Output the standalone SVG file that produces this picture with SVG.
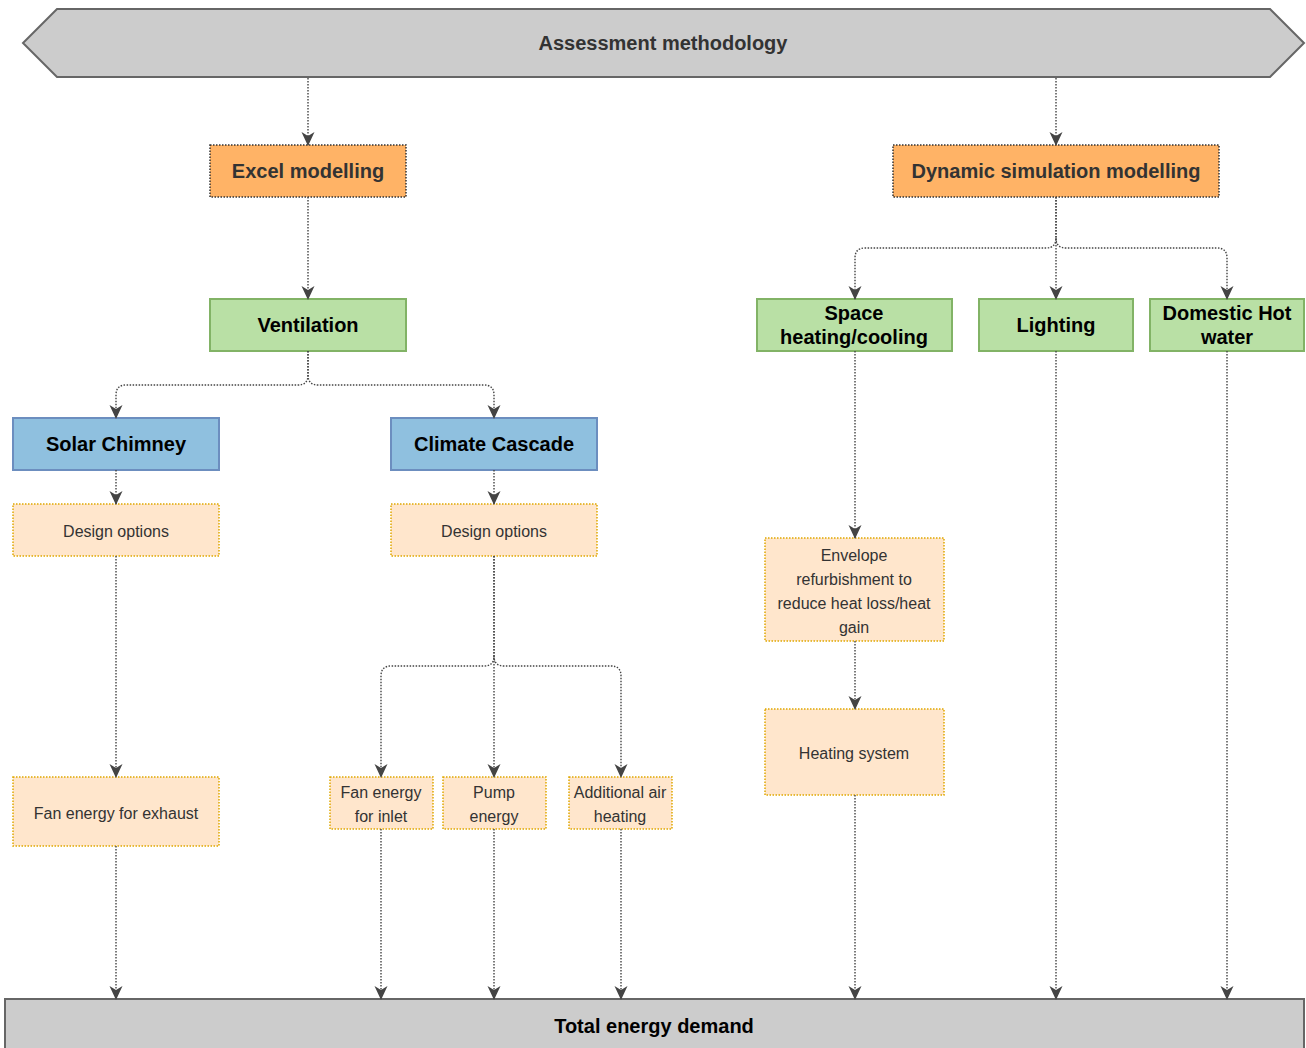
<svg xmlns="http://www.w3.org/2000/svg" width="1306" height="1048" viewBox="0 0 1306 1048">
<style>
.t{font-family:"Liberation Sans",Arial,sans-serif;text-anchor:middle;dominant-baseline:central}
.b{font-weight:bold;font-size:20px;fill:#000}
.bg{font-weight:bold;font-size:20px;fill:#333}
.s{font-size:16px;fill:#333}
.gray{fill:#CCCCCC;stroke:#666;stroke-width:2}
.orange{fill:#FFB366;stroke:#333;stroke-width:1.5;stroke-dasharray:1.5 1.5}
.green{fill:#B9E0A5;stroke:#82B366;stroke-width:2}
.blue{fill:#8FC0DF;stroke:#6C8EBF;stroke-width:2}
.peach{fill:#FFE6CC;stroke:#E0A800;stroke-width:1.5;stroke-dasharray:1.5 1.5}
.c{fill:none;stroke:#444;stroke-width:1.4;stroke-dasharray:1.5 1.5}
</style>
<defs>
<marker id="a" viewBox="0 0 14 14" refX="13" refY="7" markerWidth="14" markerHeight="14" markerUnits="userSpaceOnUse" orient="auto">
<path d="M0,0.5 L14,7 L0,13.5 L4,7 z" fill="#444"/>
</marker>
</defs>
<g id="assessment">
<polygon class="gray" points="57,9 1270,9 1304,43 1270,77 57,77 23,43"/>
<text class="t bg" x="663" y="43">Assessment methodology</text>
</g>
<g id="excel">
<rect class="orange" x="210" y="145" width="196" height="52"/>
<text class="t bg" x="308" y="171">Excel modelling</text>
</g>
<g id="dynamic">
<rect class="orange" x="893" y="145" width="326" height="52"/>
<text class="t bg" x="1056" y="171">Dynamic simulation modelling</text>
</g>
<g id="ventilation">
<rect class="green" x="210" y="299" width="196" height="52"/>
<text class="t b" x="308" y="325">Ventilation</text>
</g>
<g id="space">
<rect class="green" x="757" y="299" width="195" height="52"/>
<text class="t b" x="854" y="313">Space</text>
<text class="t b" x="854" y="337">heating/cooling</text>
</g>
<g id="lighting">
<rect class="green" x="979" y="299" width="154" height="52"/>
<text class="t b" x="1056" y="325">Lighting</text>
</g>
<g id="dhw">
<rect class="green" x="1150" y="299" width="154" height="52"/>
<text class="t b" x="1227" y="313">Domestic Hot</text>
<text class="t b" x="1227" y="337">water</text>
</g>
<g id="solar">
<rect class="blue" x="13" y="418" width="206" height="52"/>
<text class="t b" x="116" y="444">Solar Chimney</text>
</g>
<g id="climate">
<rect class="blue" x="391" y="418" width="206" height="52"/>
<text class="t b" x="494" y="444">Climate Cascade</text>
</g>
<g id="design1">
<rect class="peach" x="13" y="504" width="206" height="52"/>
<text class="t s" x="116" y="531">Design options</text>
</g>
<g id="design2">
<rect class="peach" x="391" y="504" width="206" height="52"/>
<text class="t s" x="494" y="531">Design options</text>
</g>
<g id="envelope">
<rect class="peach" x="765" y="538" width="179" height="103"/>
<text class="t s" x="854" y="555">Envelope</text>
<text class="t s" x="854" y="579">refurbishment to</text>
<text class="t s" x="854" y="603">reduce heat loss/heat</text>
<text class="t s" x="854" y="627">gain</text>
</g>
<g id="heating">
<rect class="peach" x="765" y="709" width="179" height="86"/>
<text class="t s" x="854" y="753">Heating system</text>
</g>
<g id="fanexhaust">
<rect class="peach" x="13" y="777" width="206" height="69"/>
<text class="t s" x="116" y="813">Fan energy for exhaust</text>
</g>
<g id="faninlet">
<rect class="peach" x="330" y="777" width="103" height="52"/>
<text class="t s" x="381" y="792">Fan energy</text>
<text class="t s" x="381" y="816">for inlet</text>
</g>
<g id="pump">
<rect class="peach" x="443" y="777" width="103" height="52"/>
<text class="t s" x="494" y="792">Pump</text>
<text class="t s" x="494" y="816">energy</text>
</g>
<g id="additional">
<rect class="peach" x="569" y="777" width="103" height="52"/>
<text class="t s" x="620" y="792">Additional air</text>
<text class="t s" x="620" y="816">heating</text>
</g>
<g id="total">
<rect class="gray" x="5" y="999" width="1299" height="60"/>
<text class="t b" x="654" y="1026">Total energy demand</text>
</g>
<g id="connectors">
<path class="c" marker-end="url(#a)" d="M308,78 V145"/>
<path class="c" marker-end="url(#a)" d="M1056,78 V145"/>
<path class="c" marker-end="url(#a)" d="M308,197 V299"/>
<path class="c" marker-end="url(#a)" d="M308,351 V375 Q308,385 298,385 H126 Q116,385 116,395 V418"/>
<path class="c" marker-end="url(#a)" d="M308,351 V375 Q308,385 318,385 H484 Q494,385 494,395 V418"/>
<path class="c" marker-end="url(#a)" d="M1056,197 V238 Q1056,248 1046,248 H865 Q855,248 855,258 V299"/>
<path class="c" marker-end="url(#a)" d="M1056,197 V299"/>
<path class="c" marker-end="url(#a)" d="M1056,238 Q1056,248 1066,248 H1217 Q1227,248 1227,258 V299"/>
<path class="c" marker-end="url(#a)" d="M116,470 V504"/>
<path class="c" marker-end="url(#a)" d="M494,470 V504"/>
<path class="c" marker-end="url(#a)" d="M116,556 V777"/>
<path class="c" marker-end="url(#a)" d="M494,556 V656 Q494,666 484,666 H391 Q381,666 381,676 V777"/>
<path class="c" marker-end="url(#a)" d="M494,556 V777"/>
<path class="c" marker-end="url(#a)" d="M494,656 Q494,666 504,666 H611 Q621,666 621,676 V777"/>
<path class="c" marker-end="url(#a)" d="M855,351 V538"/>
<path class="c" marker-end="url(#a)" d="M855,641 V709"/>
<path class="c" marker-end="url(#a)" d="M116,846 V999"/>
<path class="c" marker-end="url(#a)" d="M381,829 V999"/>
<path class="c" marker-end="url(#a)" d="M494,829 V999"/>
<path class="c" marker-end="url(#a)" d="M621,829 V999"/>
<path class="c" marker-end="url(#a)" d="M855,795 V999"/>
<path class="c" marker-end="url(#a)" d="M1056,351 V999"/>
<path class="c" marker-end="url(#a)" d="M1227,351 V999"/>
</g>
</svg>
